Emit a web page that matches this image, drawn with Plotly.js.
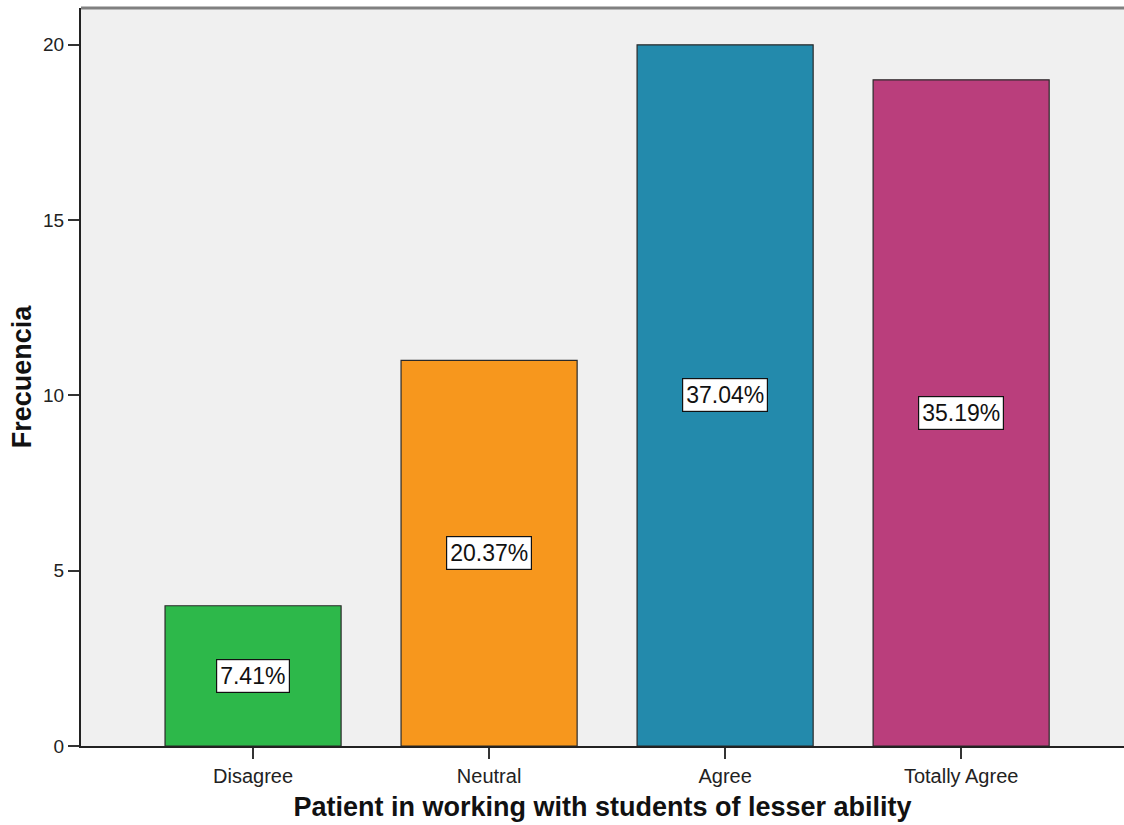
<!DOCTYPE html>
<html>
<head>
<meta charset="utf-8">
<script src="https://cdn.plot.ly/plotly-3.0.1.min.js"></script>
<style>html,body{margin:0;padding:0;background:#fff;}#chart{width:1124px;height:825px;}</style>
</head>
<body>
<div id="chart"></div>
<script>
const categories = ["Disagree", "Neutral", "Agree", "Totally Agree"];
const counts = [4, 11, 20, 19];
const percentLabels = ["7.41%", "20.37%", "37.04%", "35.19%"];
const barColors = ["#2DB84A", "#F7971D", "#238AAC", "#BA3E7C"];

const trace = {
  type: "bar",
  x: categories,
  y: counts,
  width: 0.746,
  marker: { color: barColors, line: { color: "#2a2a2a", width: 1.2 } },
  hoverinfo: "none"
};

const annotations = categories.map((c, i) => ({
  x: c, y: counts[i] / 2, xref: "x", yref: "y",
  text: percentLabels[i], showarrow: false,
  font: { family: "Liberation Sans, Arial, sans-serif", size: 23, color: "#111" },
  bgcolor: "#ffffff", bordercolor: "#111", borderwidth: 1.2, borderpad: 3
}));

const layout = {
  width: 1124, height: 825,
  margin: { l: 81, r: 0, t: 8, b: 79 },
  paper_bgcolor: "#ffffff",
  plot_bgcolor: "#F0F0F0",
  showlegend: false,
  font: { family: "Liberation Sans, Arial, sans-serif", size: 14, color: "#222" },
  xaxis: {
    type: "category",
    range: [-0.729, 3.69],
    showgrid: false, zeroline: false,
    showline: true, linecolor: "#222", linewidth: 2,
    ticks: "outside", ticklen: 11, tickwidth: 2, tickcolor: "#333",
    tickfont: { size: 20, color: "#222" },
    title: { text: "Patient in working with students of lesser ability", font: { size: 27, color: "#111", weight: "bold" }, standoff: 11 }
  },
  yaxis: {
    range: [0, 21.05],
    tickvals: [0, 5, 10, 15, 20],
    showgrid: false, zeroline: false,
    showline: true, linecolor: "#222", linewidth: 2,
    ticks: "outside", ticklen: 11, tickwidth: 2, tickcolor: "#333",
    tickfont: { size: 19, color: "#222" },
    title: { text: "Frecuencia", font: { size: 27, color: "#111", weight: "bold" }, standoff: 4 }
  },
  annotations: annotations,
  shapes: [{
    type: "line", xref: "paper", yref: "paper", x0: 0, x1: 1, y0: 1, y1: 1,
    line: { color: "#808080", width: 3 }
  }]
};

Plotly.newPlot("chart", [trace], layout, { staticPlot: true, displayModeBar: false });
</script>
</body>
</html>
